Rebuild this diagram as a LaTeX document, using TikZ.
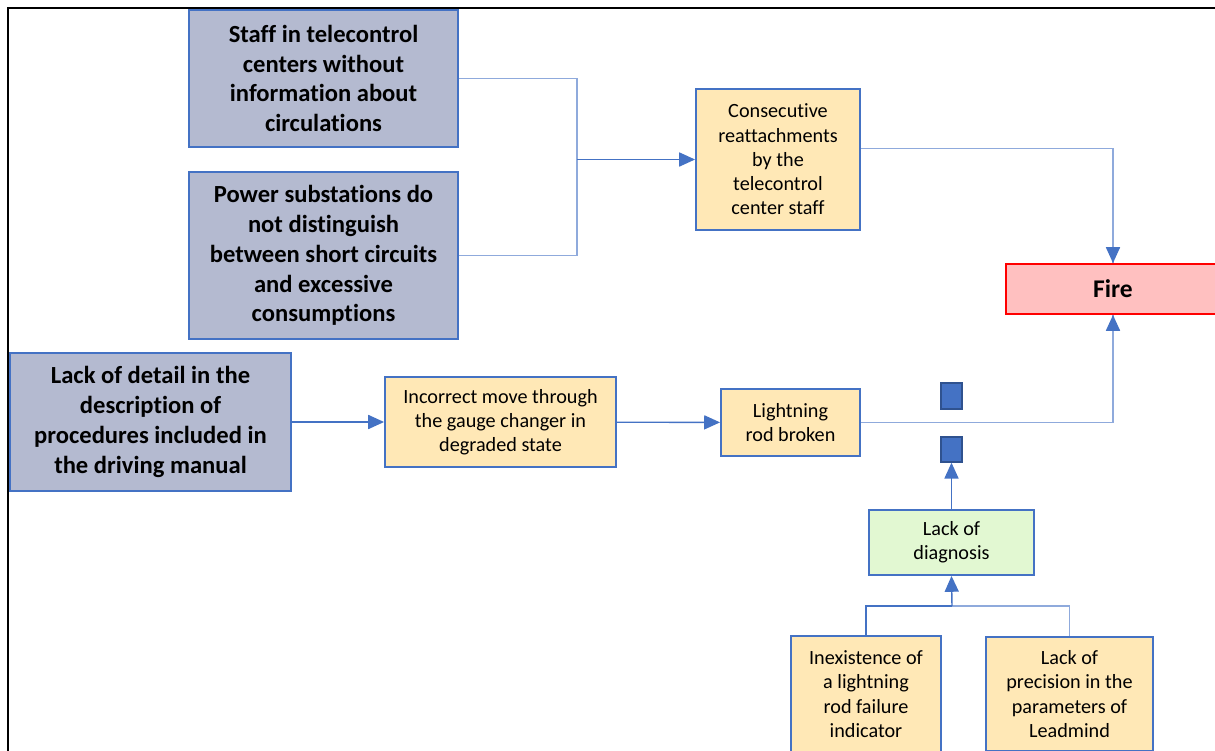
\documentclass[tikz,border=0pt]{standalone}
\usepackage{fontspec}
\setmainfont[Ligatures=CommonOff]{Carlito}
\usetikzlibrary{arrows.meta,positioning,calc}

\definecolor{causefill}{RGB}{180,186,208}
\definecolor{eventfill}{RGB}{255,232,182}
\definecolor{diagfill}{RGB}{226,248,210}
\definecolor{firefill}{RGB}{255,192,192}
\definecolor{lineblue}{RGB}{68,114,196}
\definecolor{lightblue}{RGB}{143,170,220}
\definecolor{darkblue}{RGB}{47,82,143}

\begin{document}
\begin{tikzpicture}
[x=0.02cm,y=-0.02cm,
cause/.style={rectangle,draw=lineblue,fill=causefill,line width=1.2pt,align=center,
  inner sep=0pt,font=\bfseries\fontsize{14}{17}\selectfont},
event/.style={rectangle,draw=lineblue,fill=eventfill,line width=1.1pt,align=center,
  inner sep=0pt,font=\fontsize{11.5}{13.8}\selectfont},
top event/.style={rectangle,draw=red,fill=firefill,line width=1.1pt,inner sep=0pt,
  font=\bfseries\fontsize{14.5}{17}\selectfont},
gate/.style={rectangle,draw=darkblue,fill=lineblue,line width=0.8pt,inner sep=0pt},
link/.style={draw=lightblue,line width=0.8pt},
post/.style={-{Triangle[length=9pt,width=8pt]},draw=lineblue,line width=0.8pt}]
\clip (0,0) rectangle (1215,751);
\draw[line width=1.2pt] (8,751) -- (8,8) -- (1215,8);
% first level causes
\node[cause,minimum width=5.38cm,minimum height=2.74cm] (staff) at (323.5,78.5)
  {Staff in telecontrol\\centers without\\information about\\circulations};
\node[cause,minimum width=5.38cm,minimum height=3.34cm] (substations) at (323.5,255.5)
  {Power substations do\\not distinguish\\between short circuits\\and excessive\\consumptions};
\node[cause,minimum width=5.62cm,minimum height=2.76cm] (manual) at (150.5,422)
  {Lack of detail in the\\description of\\procedures included in\\the driving manual};
% intermediate events
\node[event,minimum width=3.28cm,minimum height=2.82cm] (reattach) at (778,159.5)
  {Consecutive\\reattachments\\by the\\telecontrol\\center staff};
\node[event,minimum width=4.62cm,minimum height=1.8cm] (move) at (500.5,422)
  {Incorrect move through\\the gauge changer in\\degraded state};
\node[event,minimum width=2.78cm,minimum height=1.34cm] (rod) at (790.5,422.5)
  {Lightning\\rod broken};
\node[top event,minimum width=4.28cm,minimum height=1.0cm] (fire) at (1113,289) {Fire};
\node[gate,minimum width=0.42cm,minimum height=0.52cm] (gate up) at (951.5,396) {};
\node[gate,minimum width=0.42cm,minimum height=0.5cm] (gate down) at (951.5,449.5) {};
\node[event,fill=diagfill,minimum width=3.3cm,minimum height=1.3cm] (diagnosis) at (951.5,542.5)
  {Lack of\\diagnosis};
\node[event,minimum width=3.0cm,minimum height=2.32cm] (indicator) at (866,694)
  {Inexistence of\\a lightning\\rod failure\\indicator};
\node[event,minimum width=3.34cm,minimum height=2.28cm] (leadmind) at (1069.5,694)
  {Lack of\\precision in the\\parameters of\\Leadmind};
% connectors
\coordinate (join) at (577,0);
\coordinate (fork) at (952,606);
\draw[link] (staff.east) -| (join |- reattach.west) |- (substations.east);
\draw[post] (join |- reattach.west) -- (reattach.west);
\draw[link] ([yshift=0.22cm]reattach.east) -| (fire.north);
\draw[post] ([yshift=0.22cm]fire.north) -- (fire.north);
\draw[post] (manual) -- (move);
\draw[post] (move) -- (rod);
\draw[link] (rod.east) -| (fire.south);
\draw[post] ([yshift=-0.22cm]fire.south) -- (fire.south);
\draw[post] (diagnosis.north) -- (gate down.south);
\draw[draw=lineblue,line width=0.8pt] (indicator.north) |- (fork);
\draw[link] (fork) -| (leadmind.north);
\draw[post] (fork) -- (diagnosis.south);
\end{tikzpicture}
\end{document}
